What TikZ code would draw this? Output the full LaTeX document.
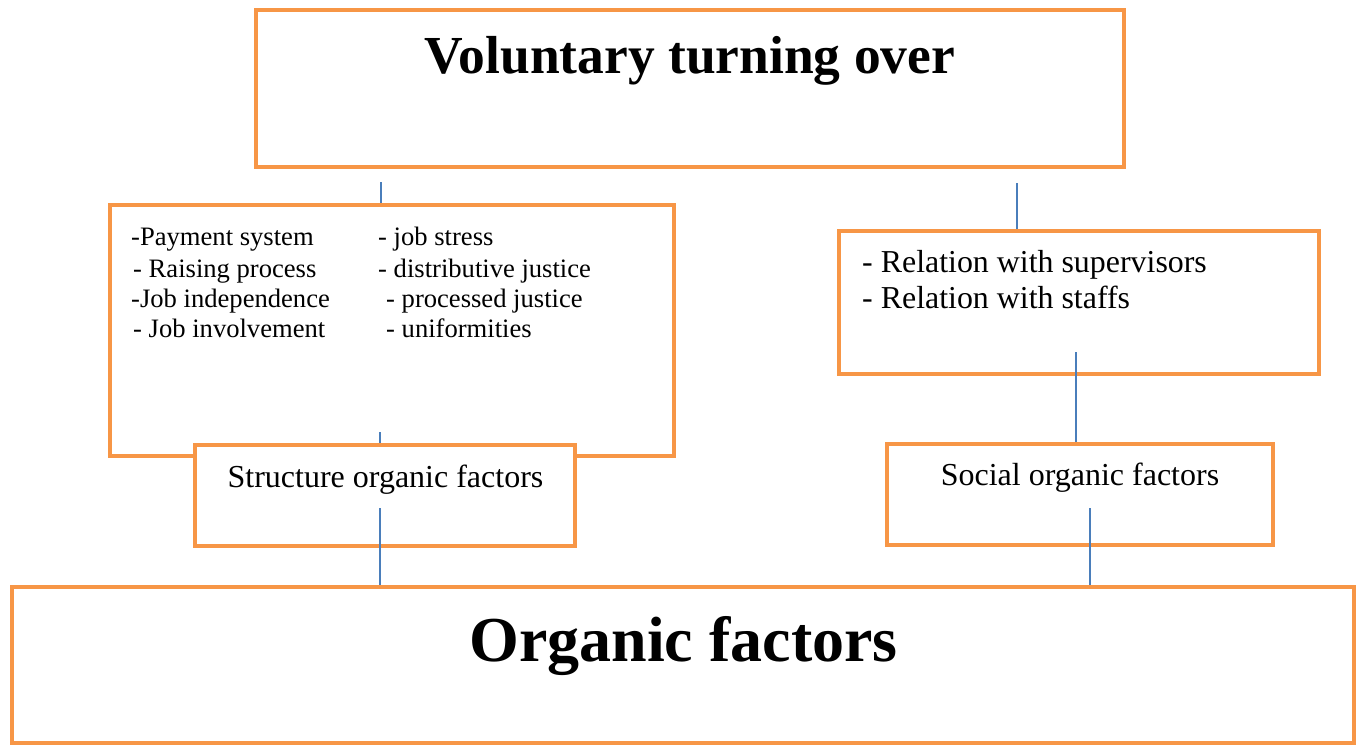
\documentclass[tikz,border=0pt]{standalone}
\usepackage{fontspec}
\setmainfont{Liberation Serif}
\definecolor{boxorange}{HTML}{F79646}
\definecolor{linkblue}{HTML}{4A7EBB}
\begin{document}
\begin{tikzpicture}[x=1pt,y=-1pt,
  obox/.style={draw=boxorange,line width=4pt,fill=white,inner sep=0pt,rectangle},
  link/.style={draw=linkblue,line width=1.4pt},
  listtext/.style={anchor=base west,inner sep=0pt,font=\fontsize{26.6}{30}\selectfont},
  reltext/.style={anchor=base west,inner sep=0pt,font=\fontsize{31.9}{36}\selectfont},
  labtext/.style={anchor=base,inner sep=0pt,font=\fontsize{32}{36}\selectfont},
  bigtext/.style={anchor=base,inner sep=0pt,font=\bfseries\fontsize{53.5}{60}\selectfont},
  hugetext/.style={anchor=base,inner sep=0pt,font=\bfseries\fontsize{64}{72}\selectfont}]
\useasboundingbox[fill=white] (0,0) rectangle (1359,747);
% boxes
\node[obox,minimum width=868pt,minimum height=157pt] (top) at (690,88.5) {};
\node[obox,minimum width=564pt,minimum height=251pt] (left) at (392,330.5) {};
\node[obox,minimum width=380pt,minimum height=101pt] (struct) at (385,495.5) {};
\node[obox,minimum width=480pt,minimum height=143pt] (right) at (1079,302.5) {};
\node[obox,minimum width=386pt,minimum height=101pt] (social) at (1080,494.5) {};
\node[obox,minimum width=1342pt,minimum height=156pt] (bottom) at (683,665) {};
% texts
\node[bigtext] (ttop) at (690,73) {Voluntary turning over};
\node[hugetext] (tbottom) at (683.5,661) {Organic factors};
\node[labtext] (tstruct) at (385.5,487) {Structure organic factors};
\node[labtext] (tsocial) at (1080,485) {Social organic factors};
\node[listtext] (l1) at (131,245) {-Payment system};
\node[listtext] (l2) at (133,277) {- Raising process};
\node[listtext] (l3) at (131,307) {-Job independence};
\node[listtext] (l4) at (133,337) {- Job involvement};
\node[listtext] (r1) at (378,245) {- job stress};
\node[listtext] (r2) at (378,277) {- distributive justice};
\node[listtext] (r3) at (386,307) {- processed justice};
\node[listtext] (r4) at (386,337) {- uniformities};
\node[reltext] (s1) at (862,272) {- Relation with supervisors};
\node[reltext] (s2) at (862,308) {- Relation with staffs};
% connector start points
\coordinate (c1) at (381,182);
\coordinate (c2) at (380,432);
\coordinate (c3) at (380,508);
\coordinate (c4) at (1017,183);
\coordinate (c5) at (1076,352);
\coordinate (c6) at (1090,508);
% connectors
\draw[link] (c1) -- (c1 |- left.north);
\draw[link] (c2) -- (c2 |- struct.north);
\draw[link] (c3) -- (c3 |- bottom.north);
\draw[link] (c4) -- (c4 |- right.north);
\draw[link] (c5) -- (c5 |- social.north);
\draw[link] (c6) -- (c6 |- bottom.north);
\end{tikzpicture}
\end{document}
